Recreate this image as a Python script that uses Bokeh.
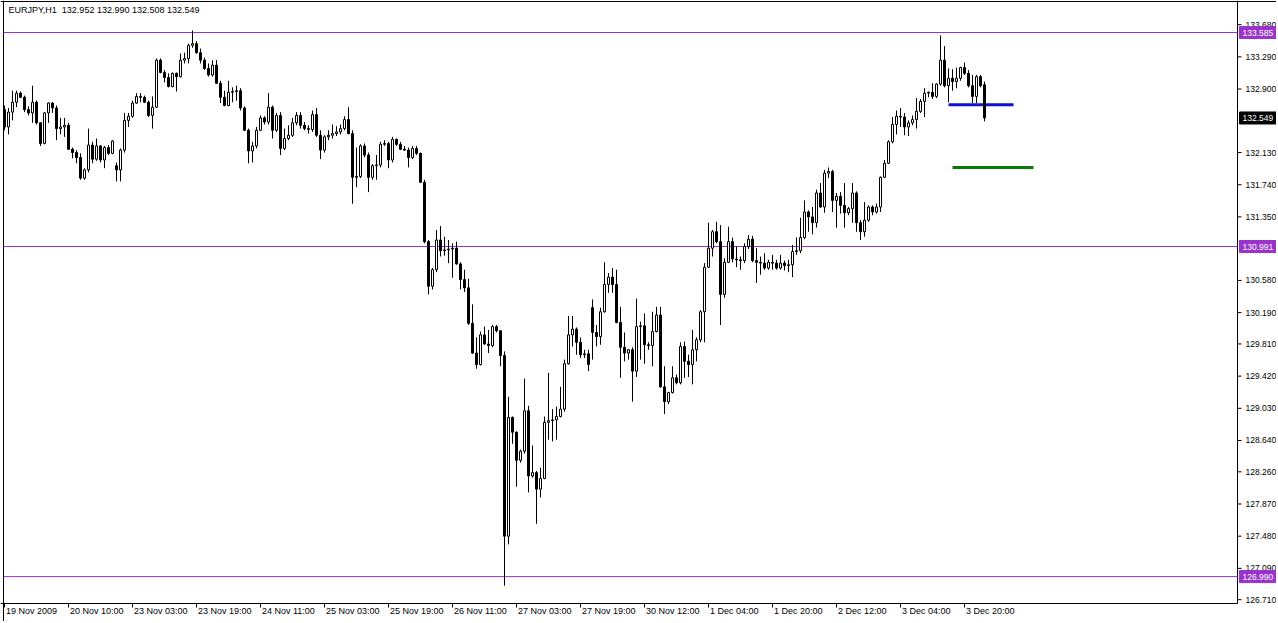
from bokeh.plotting import figure
from bokeh.models import ColumnDataSource
from bokeh.core.properties import value
from bokeh.embed import file_html
from bokeh.resources import INLINE

# ---------------- data (EURJPY H1) ----------------
opens = [
    132.65, 132.44, 132.62, 132.74, 132.85, 132.80, 132.65, 132.61, 132.74, 132.49,
    132.24, 132.61, 132.73, 132.67, 132.42, 132.44, 132.46, 132.17, 132.13, 132.07,
    131.82, 131.92, 132.22, 132.05, 132.21, 132.04, 132.19, 132.12, 131.97, 131.92,
    132.16, 132.52, 132.57, 132.73, 132.81, 132.80, 132.74, 132.58, 132.68, 133.25,
    133.10, 133.04, 132.93, 133.09, 133.05, 133.25, 133.27, 133.43, 133.45, 133.34,
    133.25, 133.15, 133.07, 133.19, 132.97, 132.80, 132.70, 132.86, 132.87, 132.88,
    132.67, 132.40, 132.15, 132.21, 132.40, 132.55, 132.50, 132.68, 132.40, 132.58,
    132.18, 132.30, 132.34, 132.49, 132.58, 132.46, 132.42, 132.41, 132.59, 132.34,
    132.16, 132.32, 132.34, 132.36, 132.38, 132.42, 132.53, 132.36, 131.83, 131.84,
    132.21, 132.10, 131.83, 131.97, 131.98, 132.23, 132.24, 132.04, 132.29, 132.23,
    132.17, 132.16, 132.07, 132.18, 132.12, 131.77, 131.05, 130.51, 130.71, 131.07,
    130.94, 130.95, 130.96, 130.97, 130.78, 130.59, 130.49, 130.06, 129.70, 129.56,
    129.92, 129.81, 129.79, 130.02, 129.97, 129.67, 127.48, 128.92, 128.74, 128.40,
    128.51, 129.00, 128.21, 128.25, 128.05, 128.18, 128.86, 128.88, 128.89, 128.93,
    129.02, 129.57, 129.92, 129.99, 129.83, 129.68, 129.69, 130.25, 129.95, 129.90,
    130.20, 130.53, 130.62, 130.53, 130.07, 129.77, 129.70, 129.74, 129.48, 130.02,
    130.03, 129.80, 129.79, 129.96, 130.16, 129.29, 129.11, 129.22, 129.40, 129.34,
    129.78, 129.60, 129.56, 129.74, 129.86, 130.20, 130.74, 130.97, 131.17, 131.05,
    130.41, 130.80, 131.05, 130.84, 130.83, 130.82, 130.99, 131.08, 130.82, 130.80,
    130.79, 130.73, 130.80, 130.79, 130.73, 130.79, 130.76, 130.77, 130.93, 130.94,
    131.10, 131.41, 131.35, 131.28, 131.64, 131.47, 131.88, 131.90, 131.55, 131.60,
    131.49, 131.40, 131.45, 131.64, 131.28, 131.17, 131.31, 131.47, 131.41, 131.47,
    131.83, 132.00, 132.26, 132.47, 132.57, 132.56, 132.44, 132.49, 132.53, 132.63,
    132.75, 132.85, 132.86, 132.81, 132.96, 133.25, 132.94, 133.03, 132.99, 133.03,
    133.16, 133.09, 132.94, 132.81, 133.05, 132.952,
]
highs = [
    132.70, 132.67, 132.88, 132.88, 132.87, 132.82, 132.69, 132.94, 132.76, 132.50,
    132.62, 132.74, 132.74, 132.70, 132.55, 132.55, 132.49, 132.19, 132.16, 132.12,
    131.94, 132.42, 132.26, 132.30, 132.22, 132.21, 132.22, 132.28, 132.01, 132.18,
    132.61, 132.61, 132.76, 132.85, 132.85, 132.82, 132.76, 132.81, 133.27, 133.27,
    133.13, 133.09, 133.10, 133.10, 133.33, 133.34, 133.45, 133.61, 133.48, 133.39,
    133.28, 133.21, 133.25, 133.25, 133.00, 132.88, 133.00, 132.92, 132.94, 132.91,
    132.69, 132.42, 132.26, 132.44, 132.58, 132.57, 132.85, 132.70, 132.61, 132.62,
    132.42, 132.46, 132.55, 132.62, 132.62, 132.50, 132.46, 132.64, 132.67, 132.40,
    132.34, 132.40, 132.47, 132.45, 132.47, 132.57, 132.68, 132.40, 132.19, 132.23,
    132.24, 132.13, 131.99, 132.10, 132.26, 132.28, 132.26, 132.32, 132.30, 132.26,
    132.21, 132.19, 132.21, 132.21, 132.13, 131.80, 131.07, 130.73, 131.19, 131.24,
    131.11, 131.07, 131.03, 131.05, 130.80, 130.71, 130.60, 130.29, 129.89, 129.96,
    130.02, 129.98, 130.04, 130.04, 129.98, 129.72, 129.17, 128.93, 128.75, 128.53,
    129.39, 129.06, 128.58, 128.27, 128.31, 128.93, 129.46, 129.02, 129.05, 129.29,
    129.62, 130.15, 130.15, 130.01, 129.89, 129.74, 129.74, 130.35, 130.04, 130.25,
    130.80, 130.67, 130.73, 130.71, 130.26, 129.95, 129.75, 129.77, 130.36, 130.08,
    130.18, 129.83, 130.20, 130.26, 130.26, 129.54, 129.23, 129.54, 129.44, 129.83,
    129.84, 129.68, 129.98, 129.89, 130.22, 130.79, 131.28, 131.19, 131.29, 131.25,
    130.85, 131.23, 131.10, 130.99, 130.87, 131.03, 131.13, 131.12, 130.97, 130.87,
    130.91, 130.83, 130.89, 130.83, 130.89, 130.82, 130.83, 131.01, 131.10, 131.34,
    131.55, 131.43, 131.47, 131.68, 131.76, 131.92, 131.95, 131.92, 131.64, 131.65,
    131.76, 131.47, 131.76, 131.66, 131.31, 131.53, 131.49, 131.49, 131.51, 131.84,
    132.04, 132.28, 132.56, 132.64, 132.67, 132.61, 132.52, 132.58, 132.79, 132.78,
    132.91, 132.87, 132.97, 132.97, 133.55, 133.42, 133.15, 133.14, 133.16, 133.17,
    133.22, 133.13, 133.07, 133.07, 133.07, 132.990,
]
lows = [
    132.40, 132.35, 132.52, 132.68, 132.79, 132.62, 132.58, 132.49, 132.47, 132.21,
    132.23, 132.49, 132.61, 132.28, 132.35, 132.32, 132.16, 132.06, 132.00, 131.80,
    131.80, 131.89, 132.00, 132.03, 132.01, 131.94, 132.10, 132.11, 131.78, 131.78,
    132.13, 132.44, 132.55, 132.72, 132.74, 132.73, 132.56, 132.42, 132.67, 133.09,
    132.98, 132.92, 132.92, 132.87, 133.04, 133.21, 133.21, 133.40, 133.33, 133.21,
    133.13, 133.05, 133.05, 132.96, 132.73, 132.69, 132.69, 132.74, 132.76, 132.64,
    132.39, 132.00, 132.01, 132.18, 132.39, 132.47, 132.47, 132.30, 132.38, 132.10,
    132.16, 132.28, 132.32, 132.46, 132.42, 132.40, 132.36, 132.38, 132.32, 132.05,
    132.13, 132.28, 132.30, 132.33, 132.35, 132.40, 132.35, 131.51, 131.71, 131.82,
    132.07, 131.65, 131.80, 131.80, 131.95, 132.21, 131.94, 132.01, 132.21, 132.16,
    132.15, 131.95, 132.05, 132.10, 131.76, 131.03, 130.41, 130.47, 130.68, 130.87,
    130.88, 130.79, 130.61, 130.77, 130.47, 130.44, 130.04, 129.69, 129.51, 129.55,
    129.80, 129.70, 129.77, 129.95, 129.54, 126.88, 127.38, 128.60, 128.08, 128.37,
    128.48, 128.01, 128.19, 127.63, 127.95, 128.17, 128.65, 128.63, 128.65, 128.92,
    128.99, 129.56, 129.78, 129.68, 129.64, 129.64, 129.48, 129.62, 129.78, 129.80,
    130.19, 130.43, 130.43, 130.06, 129.40, 129.60, 129.62, 129.11, 129.41, 129.62,
    129.57, 129.74, 129.54, 129.95, 129.28, 128.96, 129.08, 129.21, 129.32, 129.32,
    129.40, 129.41, 129.32, 129.60, 129.83, 129.83, 130.73, 130.87, 131.03, 130.04,
    130.37, 130.79, 130.80, 130.74, 130.71, 130.79, 130.96, 130.80, 130.55, 130.65,
    130.71, 130.71, 130.71, 130.71, 130.71, 130.70, 130.68, 130.62, 130.89, 130.91,
    131.08, 131.17, 131.14, 131.22, 131.46, 131.40, 131.82, 131.41, 131.22, 131.39,
    131.22, 131.37, 131.28, 131.17, 131.07, 131.11, 131.29, 131.37, 131.39, 131.41,
    131.82, 131.99, 132.24, 132.35, 132.44, 132.34, 132.33, 132.46, 132.42, 132.61,
    132.56, 132.80, 132.78, 132.79, 132.94, 132.92, 132.74, 132.88, 132.91, 133.00,
    133.07, 132.92, 132.73, 132.73, 132.92, 132.508,
]
closes = [
    132.44, 132.62, 132.74, 132.85, 132.80, 132.65, 132.61, 132.74, 132.49, 132.24,
    132.61, 132.73, 132.67, 132.42, 132.44, 132.46, 132.17, 132.13, 132.07, 131.82,
    131.92, 132.22, 132.05, 132.21, 132.04, 132.19, 132.12, 132.27, 131.92, 132.16,
    132.52, 132.57, 132.73, 132.81, 132.80, 132.74, 132.58, 132.68, 133.25, 133.10,
    133.04, 132.93, 133.09, 133.05, 133.25, 133.27, 133.43, 133.45, 133.34, 133.25,
    133.15, 133.07, 133.19, 132.97, 132.80, 132.70, 132.86, 132.87, 132.88, 132.67,
    132.40, 132.15, 132.21, 132.40, 132.55, 132.50, 132.68, 132.40, 132.58, 132.18,
    132.30, 132.34, 132.49, 132.58, 132.46, 132.42, 132.41, 132.59, 132.34, 132.16,
    132.32, 132.34, 132.36, 132.38, 132.42, 132.53, 132.36, 131.83, 131.84, 132.21,
    132.10, 131.83, 131.97, 131.98, 132.23, 132.24, 132.04, 132.29, 132.23, 132.17,
    132.16, 132.07, 132.18, 132.12, 131.77, 131.05, 130.51, 130.71, 131.07, 130.94,
    130.95, 130.96, 130.97, 130.78, 130.59, 130.49, 130.06, 129.70, 129.56, 129.92,
    129.81, 129.79, 130.02, 129.97, 129.67, 127.48, 128.92, 128.74, 128.40, 128.51,
    129.00, 128.21, 128.25, 128.05, 128.18, 128.86, 128.88, 128.89, 128.93, 129.02,
    129.57, 129.92, 129.99, 129.83, 129.68, 129.69, 129.56, 129.95, 129.90, 130.20,
    130.53, 130.62, 130.53, 130.07, 129.77, 129.70, 129.74, 129.48, 130.02, 130.03,
    129.80, 129.79, 129.96, 130.16, 129.29, 129.11, 129.22, 129.40, 129.34, 129.78,
    129.60, 129.56, 129.74, 129.86, 130.20, 130.74, 130.97, 131.17, 131.05, 130.41,
    130.80, 131.05, 130.84, 130.83, 130.82, 130.99, 131.08, 130.82, 130.80, 130.79,
    130.73, 130.80, 130.79, 130.73, 130.79, 130.76, 130.77, 130.93, 130.94, 131.10,
    131.41, 131.35, 131.28, 131.64, 131.47, 131.88, 131.90, 131.55, 131.60, 131.49,
    131.40, 131.45, 131.64, 131.28, 131.17, 131.31, 131.47, 131.41, 131.47, 131.83,
    132.00, 132.26, 132.47, 132.57, 132.56, 132.44, 132.49, 132.53, 132.63, 132.75,
    132.85, 132.86, 132.81, 132.96, 133.25, 132.94, 133.03, 132.99, 133.03, 133.16,
    133.09, 132.94, 132.81, 133.05, 132.94, 132.549,
]

date_ticks = [0, 16, 32, 48, 64, 80, 96, 112, 128, 144, 160, 176, 192, 208, 224, 240]
date_labels = ["19 Nov 2009", "20 Nov 10:00", "23 Nov 03:00", "23 Nov 19:00",
               "24 Nov 11:00", "25 Nov 03:00", "25 Nov 19:00", "26 Nov 11:00",
               "27 Nov 03:00", "27 Nov 19:00", "30 Nov 12:00", "1 Dec 04:00",
               "1 Dec 20:00", "2 Dec 12:00", "3 Dec 04:00", "3 Dec 20:00"]
price_ticks = [133.68, 133.29, 132.90, 132.13, 131.74, 131.35, 130.58, 130.19,
               129.81, 129.42, 129.03, 128.64, 128.26, 127.87, 127.48, 127.09, 126.71]
level_prices = [133.585, 130.991, 126.990]
current_price = 132.549
title_text = "EURJPY,H1\u00a0 132.952 132.990 132.508 132.549"
blue_level = [132.71, 236.0, 252.25]
green_level = [131.95, 237.0, 257.25]

# ---------------- geometry of the chart window ----------------
FONT = "Liberation Sans"
W, H = 1276, 621
PXX = 4.0                        # px per bar
XL = -1.0                        # bar i centred on pixel column 4 + 4 i
XR = XL + W / PXX
PXY = 82.5                       # px per price unit
YT = 133.973
YB = YT - H / PXY

def bx(px):    # window pixel column -> bar units
    return XL + px / PXX

def py(px):    # window pixel row -> price units
    return YT - px / PXY

AX = bx(1237)                    # price scale line
AY = py(603)                     # time scale line

p = figure(width=W, height=H, x_range=(XL, XR), y_range=(YB, YT),
           x_axis_location=None, y_axis_location=None,
           output_backend="svg", toolbar_location=None,
           min_border=0, min_border_left=0, min_border_right=0,
           min_border_top=0, min_border_bottom=0)
p.background_fill_color = "white"
p.border_fill_color = "white"
p.outline_line_color = None
for g in p.grid:
    g.visible = False

# ---------------- window frame and scales ----------------
xl_line = bx(3)
yt_line = py(1)
p.segment(x0=[xl_line], y0=[YB], x1=[xl_line], y1=[YT], line_color="black", line_width=1)
p.segment(x0=[XL], y0=[yt_line], x1=[XR], y1=[yt_line], line_color="black", line_width=1)
p.segment(x0=[AX], y0=[AY], x1=[AX], y1=[YT], line_color="black", line_width=1)
p.segment(x0=[XL], y0=[AY], x1=[AX], y1=[AY], line_color="black", line_width=1)

# price scale ticks + labels
p.segment(x0=[AX] * len(price_ticks), y0=price_ticks,
          x1=[AX + 4 / PXX] * len(price_ticks), y1=price_ticks,
          line_color="black", line_width=1)
p.text(x=[bx(1245)] * len(price_ticks), y=price_ticks,
       text=["%.3f" % v for v in price_ticks], text_font=value(FONT),
       text_font_size="8.5px", text_color="black", text_align="left",
       text_baseline="middle")

# time scale ticks + labels
p.segment(x0=date_ticks, y0=[AY] * len(date_ticks), x1=date_ticks,
          y1=[AY - 4 / PXY] * len(date_ticks), line_color="black", line_width=1)
p.text(x=[t + 1.5 / PXX for t in date_ticks], y=[AY - 2 / PXY] * len(date_ticks),
       text=date_labels, text_font=value(FONT), text_font_size="9px",
       text_color="black", text_align="left", text_baseline="top")

# ---------------- horizontal levels ----------------
PURPLE = "#9933cc"
p.segment(x0=[xl_line] * 3, y0=level_prices, x1=[AX] * 3, y1=level_prices,
          line_color=PURPLE, line_width=1)

p.segment(x0=[blue_level[1]], y0=[blue_level[0]], x1=[blue_level[2]], y1=[blue_level[0]],
          line_color="#1010d0", line_width=3)
p.segment(x0=[green_level[1]], y0=[green_level[0]], x1=[green_level[2]], y1=[green_level[0]],
          line_color="#0a7a0a", line_width=3)

# ---------------- candles ----------------
n = len(closes)
xs = list(range(n))
hi = [max(h, o, c) for h, o, c in zip(highs, opens, closes)]
lo = [min(l, o, c) for l, o, c in zip(lows, opens, closes)]
top = [max(o, c) for o, c in zip(opens, closes)]
bot = [min(o, c) for o, c in zip(opens, closes)]
up = [c >= o for o, c in zip(opens, closes)]

src_all = ColumnDataSource(dict(x=xs, high=hi, low=lo))
src_up = ColumnDataSource(dict(x=[x for x, u in zip(xs, up) if u],
                               top=[t for t, u in zip(top, up) if u],
                               bottom=[b for b, u in zip(bot, up) if u]))
src_dn = ColumnDataSource(dict(x=[x for x, u in zip(xs, up) if not u],
                               top=[t for t, u in zip(top, up) if not u],
                               bottom=[b for b, u in zip(bot, up) if not u]))

p.segment(x0="x", y0="low", x1="x", y1="high", source=src_all, line_color="black", line_width=1)
p.vbar(x="x", top="top", bottom="bottom", width=0.5, source=src_up,
       fill_color="white", line_color="black", line_width=1)
p.vbar(x="x", top="top", bottom="bottom", width=0.5, source=src_dn,
       fill_color="black", line_color="black", line_width=1)

# ---------------- price tags on the scale ----------------
box_x0 = bx(1239)
box_cx = (box_x0 + XR) / 2
box_w = XR - box_x0
tag_prices = level_prices + [current_price]
tag_colors = [PURPLE, PURPLE, PURPLE, "black"]
p.rect(x=[box_cx] * 4, y=tag_prices, width=[box_w] * 4, height=12, height_units="screen",
       fill_color=tag_colors, line_color=tag_colors)
p.text(x=[bx(1242)] * 4, y=tag_prices, text=["%.3f" % v for v in tag_prices],
       text_font=value(FONT), text_font_size="8.5px", text_color="white",
       text_align="left", text_baseline="middle")

# title
p.text(x=[bx(8)], y=[py(4)], text=[title_text], text_font=value(FONT),
       text_font_size="9px", text_color="black", text_align="left", text_baseline="top")

open("out.html", "w").write(file_html(p, INLINE))
